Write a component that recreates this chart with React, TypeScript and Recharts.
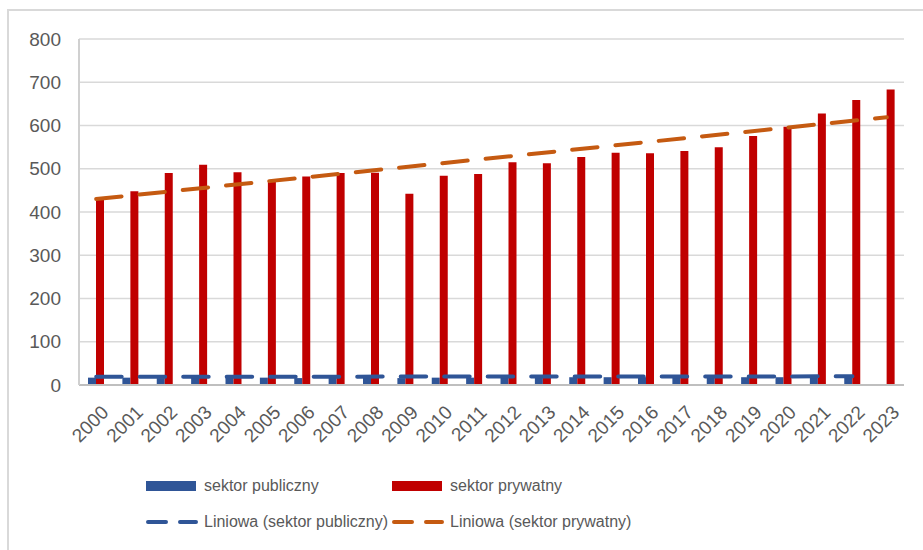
import {
  ComposedChart,
  CartesianGrid,
  XAxis,
  YAxis,
  Bar,
  Line,
  Legend,
} from "recharts";

const years = [
  "2000", "2001", "2002", "2003", "2004", "2005", "2006", "2007", "2008", "2009", "2010", "2011",
  "2012", "2013", "2014", "2015", "2016", "2017", "2018", "2019", "2020", "2021", "2022", "2023",
];
const sektorPubliczny = [
  17, 17, 16, 17, 17, 17, 16, 17, 17, 16, 17, 17, 17, 18, 18, 18, 18, 18, 18, 18, 18, 18, 18, null,
];
const sektorPrywatny = [
  430, 448, 490, 509, 492, 472, 482, 490, 491, 442, 484, 488, 515, 513, 527, 537, 536, 541, 550, 576,
  597, 628, 659, 683,
];
// linear trend lines, endpoints
const trendPublicznyYears = ["2000", "2022"];
const trendPubliczny = [19, 20];
const trendPrywatnyYears = ["2000", "2023"];
const trendPrywatny = [430, 619];
const yTicks = [0, 100, 200, 300, 400, 500, 600, 700, 800];

const BLUE = "#2f5597";
const RED = "#c00000";
const ORANGE = "#c55a11";
const TEXT = "#595959";
const FONT = "'Liberation Sans', Arial, sans-serif";

const data = years.map((year, i) => {
  const pubIdx = trendPublicznyYears.indexOf(year);
  const privIdx = trendPrywatnyYears.indexOf(year);
  return {
    year,
    publiczny: sektorPubliczny[i],
    prywatny: sektorPrywatny[i],
    trendPub: pubIdx >= 0 ? trendPubliczny[pubIdx] : null,
    trendPriv: privIdx >= 0 ? trendPrywatny[privIdx] : null,
  };
});

function YearTick(props: any) {
  const { x, y, payload } = props;
  return (
    <g transform={`translate(${x + 4},${y + 13})`}>
      <text
        x={0}
        y={0}
        dy="0.71em"
        textAnchor="end"
        transform="rotate(-45)"
        fontSize={19}
        fill={TEXT}
        fontFamily={FONT}
      >
        {payload.value}
      </text>
    </g>
  );
}

function LegendItem({ x, y, color, dashed, label }: { x: number; y: number; color: string; dashed: boolean; label: string }) {
  return (
    <div style={{ position: "absolute", left: x, top: y - 12, height: 24, display: "flex", alignItems: "center" }}>
      <svg width={52} height={12} style={{ marginRight: 6 }}>
        {dashed ? (
          <line x1={2} y1={6} x2={50} y2={6} stroke={color} strokeWidth={4} strokeLinecap="round" strokeDasharray="18 14" />
        ) : (
          <rect x={0} y={1} width={50} height={10} fill={color} />
        )}
      </svg>
      <span style={{ fontSize: 16, color: TEXT, fontFamily: FONT, whiteSpace: "nowrap" }}>{label}</span>
    </div>
  );
}

function ChartLegend() {
  return (
    <div style={{ position: "relative", width: 915, height: 95 }}>
      <LegendItem x={138} y={31} color={BLUE} dashed={false} label="sektor publiczny" />
      <LegendItem x={384} y={31} color={RED} dashed={false} label="sektor prywatny" />
      <LegendItem x={138} y={67} color={BLUE} dashed={true} label="Liniowa (sektor publiczny)" />
      <LegendItem x={384} y={67} color={ORANGE} dashed={true} label="Liniowa (sektor prywatny)" />
    </div>
  );
}

export default function App() {
  return (
    <div style={{ position: "fixed", left: 0, top: 0, width: 923, height: 550, overflow: "hidden", background: "#fff" }}>
      <div
        style={{
          position: "absolute",
          left: 7,
          top: 9,
          width: 1000,
          height: 1000,
          borderLeft: "2px solid #d9d9d9",
          borderTop: "2px solid #d9d9d9",
        }}
      />
      <div style={{ position: "absolute", left: 8, top: 8 }}>
        <ComposedChart
          width={915}
          height={542}
          data={data}
          margin={{ top: 31, right: 19, left: 0, bottom: 0 }}
          barGap={0}
          style={{ fontFamily: FONT }}
        >
          <CartesianGrid vertical={false} stroke="#d9d9d9" strokeWidth={1.5} />
          <XAxis
            dataKey="year"
            interval={0}
            height={70}
            axisLine={{ stroke: "#bfbfbf", strokeWidth: 2 }}
            tickLine={false}
            tickSize={6}
            tickMargin={0}
            tick={<YearTick />}
          />
          <XAxis xAxisId="top" dataKey="year" orientation="top" height={0} tick={false} tickLine={false} axisLine={{ stroke: "#bfbfbf", strokeWidth: 2 }} />
          <YAxis
            domain={[0, 800]}
            ticks={yTicks}
            width={71}
            axisLine={{ stroke: "#d0d0d0", strokeWidth: 2 }}
            tickLine={false}
            tickMargin={12}
            tick={{ fontSize: 19, fill: TEXT }}
          />
          <YAxis yAxisId="right" orientation="right" domain={[0, 800]} width={0} tick={false} tickLine={false} axisLine={{ stroke: "#bfbfbf", strokeWidth: 2 }} />
          <Legend verticalAlign="bottom" wrapperStyle={{ left: 0, width: 915 }} content={() => <ChartLegend />} />
          <Bar dataKey="publiczny" name="sektor publiczny" fill={BLUE} barSize={8} isAnimationActive={false} />
          <Bar dataKey="prywatny" name="sektor prywatny" fill={RED} barSize={8} isAnimationActive={false} />
          <Line
            dataKey="trendPub"
            name="Liniowa (sektor publiczny)"
            stroke={BLUE}
            strokeWidth={4}
            strokeLinecap="round"
            strokeDasharray="25.5 18"
            dot={false}
            connectNulls
            isAnimationActive={false}
          />
          <Line
            dataKey="trendPriv"
            name="Liniowa (sektor prywatny)"
            stroke={ORANGE}
            strokeWidth={4}
            strokeLinecap="round"
            strokeDasharray="25.5 18"
            dot={false}
            connectNulls
            isAnimationActive={false}
          />
        </ComposedChart>
      </div>
    </div>
  );
}
